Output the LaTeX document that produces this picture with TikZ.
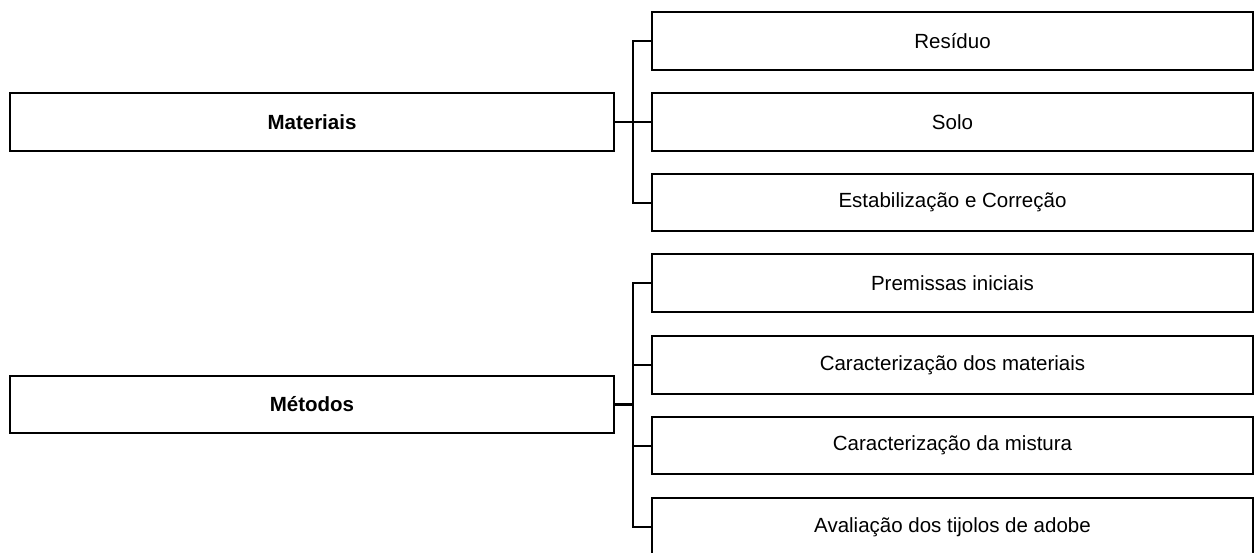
\documentclass[tikz,border=0pt]{standalone}
\usepackage{fontspec}
\setmainfont{Liberation Sans}
\begin{document}
\begin{tikzpicture}[x=1pt,y=-1pt,
  font=\fontsize{20.5}{24}\selectfont,
  groupbox/.style={draw=black, line width=2.8pt, fill=white, rectangle, inner sep=0pt,
    minimum width=604pt, minimum height=58pt, font=\fontsize{20.5}{24}\selectfont\bfseries},
  itembox/.style={draw=black, line width=2.6pt, fill=white, rectangle, inner sep=0pt,
    minimum width=601pt, minimum height=58pt},
  link/.style={draw=black, line width=2pt},
  trunk/.style={draw=black, line width=2.8pt}]
\useasboundingbox (0,0) rectangle (1255,552);
\fill[white] (0,0) rectangle (1255,552);

% Materiais and its three items
\node[groupbox] (mat) at (312,122) {Materiais};
\node[itembox] (r1) at (952.5,41) {Resíduo};
\node[itembox] (r2) at (952.5,122) {Solo};
\node[itembox, minimum height=57pt] (r3) at (952.5,202.5) {Estabilização e Correção};

% Métodos and its four items
\node[groupbox, minimum height=57pt] (met) at (312,404.5) {Métodos};
\node[itembox] (p1) at (952.5,283) {Premissas iniciais};
\node[itembox] (p2) at (952.5,365) {Caracterização dos materiais};
\node[itembox, minimum height=57pt] (p3) at (952.5,445.5) {Caracterização da mistura};
\node[itembox] (p4) at (952.5,527) {Avaliação dos tijolos de adobe};

% branching brackets
\coordinate (b1) at (633,122);
\coordinate (b2) at (633,404.5);

\draw[link] (r1.west) -- (r1.west -| b1) -- (r3.west -| b1) -- (r3.west);
\draw[link] (b1) -- (r2.west);
\draw[trunk] (mat.east) -- (b1);

\draw[link] (p1.west) -- (p1.west -| b2) -- (p4.west -| b2) -- (p4.west);
\draw[link] (p2.west) -- (p2.west -| b2);
\draw[link] (p3.west) -- (p3.west -| b2);
\draw[trunk] (met.east) -- (b2);
\end{tikzpicture}
\end{document}
